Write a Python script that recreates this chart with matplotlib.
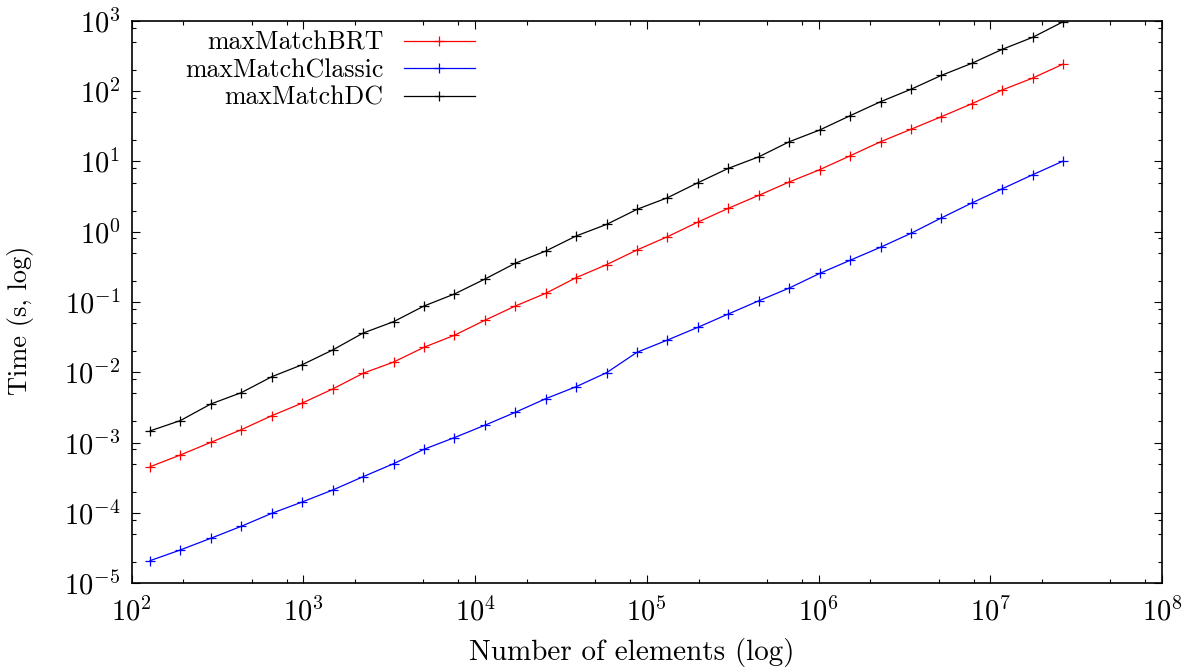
import matplotlib
matplotlib.use("Agg")
import matplotlib.pyplot as plt
from matplotlib.ticker import LogLocator, NullFormatter, LogFormatterSciNotation, FixedLocator

plt.rcParams['font.family'] = 'serif'
plt.rcParams['font.serif'] = ['cmr10', 'DejaVu Serif']
plt.rcParams['mathtext.fontset'] = 'cm'
plt.rcParams['axes.formatter.use_mathtext'] = True

# Number of elements
n_elements = [128, 192, 289, 435, 655, 985, 1481, 2227, 3350, 5038,
              7578, 11400, 17140, 25780, 38770, 58320, 87700, 131900, 198400, 298400,
              448700, 674900, 1015000, 1527000, 2296000, 3454000, 5194000, 7812000, 11750000, 17670000,
              26580000]

time_brt = [4.55e-4, 6.68e-4, 1.01e-3, 1.53e-3, 2.42e-3, 3.66e-3, 5.8e-3, 9.7e-3, 1.40e-2, 2.27e-2,
            3.37e-2, 5.5e-2, 8.77e-2, 0.133, 0.222, 0.340, 0.550, 0.849, 1.37, 2.15,
            3.29, 5.09, 7.61, 12.0, 19.0, 28.6, 43.2, 66.0, 103.5, 153,
            242]

time_classic = [2.10e-5, 2.98e-5, 4.37e-5, 6.47e-5, 9.9e-5, 1.435e-4, 2.12e-4, 3.28e-4, 5.02e-4, 8.05e-4,
                1.18e-3, 1.77e-3, 2.70e-3, 4.22e-3, 6.25e-3, 9.89e-3, 1.93e-2, 2.88e-2, 4.37e-2, 6.76e-2,
                0.104, 0.158, 0.255, 0.392, 0.601, 0.948, 1.57, 2.56, 4.08, 6.46,
                10.1]

time_dc = [1.47e-3, 2.06e-3, 3.55e-3, 5.14e-3, 8.67e-3, 1.285e-2, 2.08e-2, 3.62e-2, 5.25e-2, 8.77e-2,
           0.130, 0.212, 0.356, 0.531, 0.869, 1.27, 2.08, 3.04, 4.97, 7.96,
           11.6, 19.0, 27.9, 44.6, 70.5, 106, 167, 248, 392, 581,
           968]

x_ticks = [1e2, 1e3, 1e4, 1e5, 1e6, 1e7, 1e8]
y_ticks = [1e-5, 1e-4, 1e-3, 1e-2, 1e-1, 1e0, 1e1, 1e2, 1e3]

series_labels = ["maxMatchBRT", "maxMatchClassic", "maxMatchDC"]
series_colors = ["#ff0000", "#0000ff", "#000000"]

W, H = 1192, 670
fig = plt.figure(figsize=(W / 100, H / 100), dpi=100)
ax = fig.add_axes([131.7 / W, 1 - 583.3 / H, (1162 - 131.7) / W, (583.3 - 20.7) / H])

for ys, lab, col in zip([time_brt, time_classic, time_dc], series_labels, series_colors):
    ax.plot(n_elements, ys, color=col, lw=0.9, marker='+', markersize=7,
            markeredgewidth=0.9, label=lab)

ax.set_xscale('log')
ax.set_yscale('log')
ax.set_xlim(x_ticks[0], x_ticks[-1])
ax.set_ylim(y_ticks[0], y_ticks[-1])

for axis, ticks in ((ax.xaxis, x_ticks), (ax.yaxis, y_ticks)):
    axis.set_major_locator(FixedLocator(ticks))
    axis.set_minor_locator(LogLocator(base=10, subs=(2, 5, 8), numticks=20))
    axis.set_minor_formatter(NullFormatter())
    axis.set_major_formatter(LogFormatterSciNotation())

ax.tick_params(which='both', direction='in', top=True, right=True, width=0.8, colors='black')
ax.tick_params(which='major', length=6, labelsize=20.5)
ax.tick_params(which='minor', length=3)
ax.tick_params(axis='x', which='major', pad=10)
ax.tick_params(axis='y', which='major', pad=8)
for s in ax.spines.values():
    s.set_linewidth(1.2)

AXW = 1162 - 131.7
AXH = 583.3 - 20.7
ax.set_xlabel("Number of elements (log)", fontsize=21)
ax.set_ylabel("Time (s, log)", fontsize=19)
ax.xaxis.set_label_coords((632 - 131.7) / AXW, -(638 - 583.3) / AXH)
ax.yaxis.set_label_coords(-(131.7 - 34) / AXW, (583.3 - 320) / AXH)

leg = ax.legend(loc='upper right', bbox_to_anchor=(475 / W, 1 - 31 / H),
                bbox_transform=fig.transFigure, frameon=False, fontsize=18.6,
                markerfirst=False, handlelength=2.75, handletextpad=0.8,
                labelspacing=0.15, borderpad=0, borderaxespad=0)

fig.savefig("out.png", dpi=100)
